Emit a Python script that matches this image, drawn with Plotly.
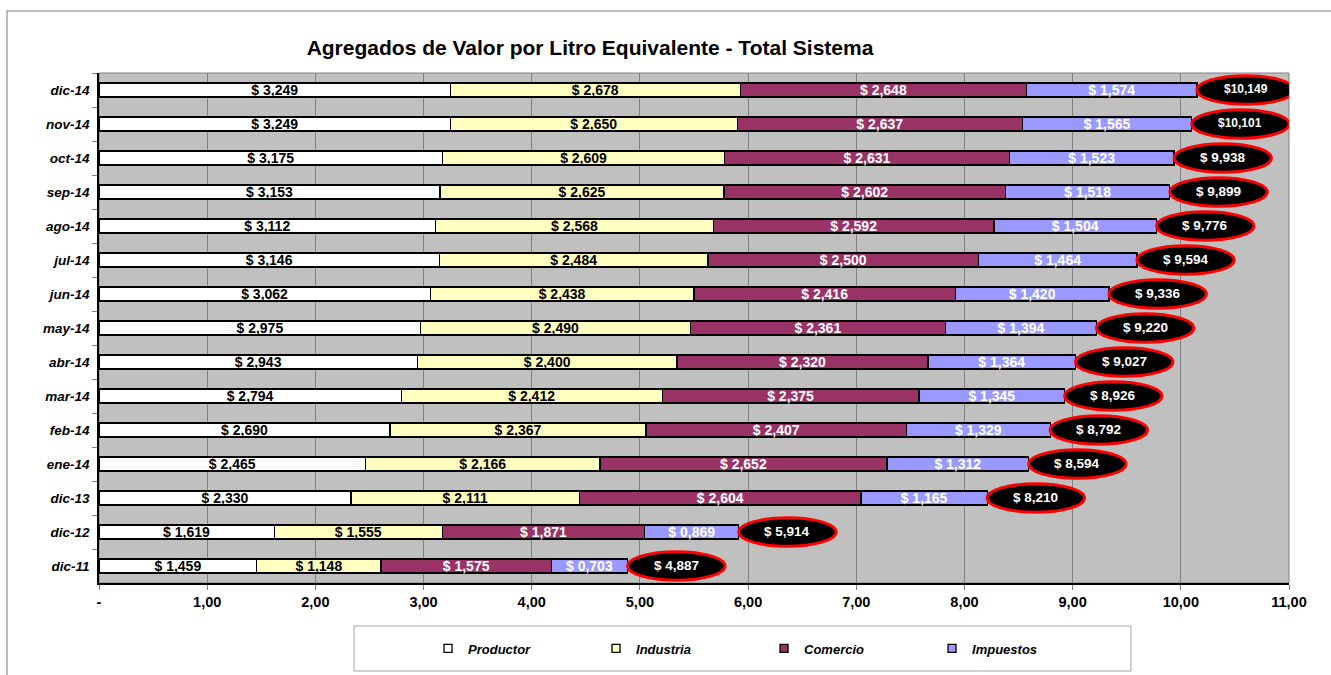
import plotly.graph_objects as go

# ---------------- data ----------------
months = ["dic-14", "nov-14", "oct-14", "sep-14", "ago-14", "jul-14", "jun-14",
          "may-14", "abr-14", "mar-14", "feb-14", "ene-14", "dic-13", "dic-12", "dic-11"]
productor = [3.249, 3.249, 3.175, 3.153, 3.112, 3.146, 3.062, 2.975, 2.943, 2.794,
             2.690, 2.465, 2.330, 1.619, 1.459]
industria = [2.678, 2.650, 2.609, 2.625, 2.568, 2.484, 2.438, 2.490, 2.400, 2.412,
             2.367, 2.166, 2.111, 1.555, 1.148]
comercio = [2.648, 2.637, 2.631, 2.602, 2.592, 2.500, 2.416, 2.361, 2.320, 2.375,
            2.407, 2.652, 2.604, 1.871, 1.575]
impuestos = [1.574, 1.565, 1.523, 1.518, 1.504, 1.464, 1.420, 1.394, 1.364, 1.345,
             1.329, 1.312, 1.165, 0.869, 0.703]
totales = [10.149, 10.101, 9.938, 9.899, 9.776, 9.594, 9.336, 9.220, 9.027, 8.926,
           8.792, 8.594, 8.210, 5.914, 4.887]
series_names = ["Productor", "Industria", "Comercio", "Impuestos"]
x_tick_values = list(range(0, 12))
x_tick_labels = ["-", "1,00", "2,00", "3,00", "4,00", "5,00", "6,00", "7,00",
                 "8,00", "9,00", "10,00", "11,00"]
title_text = "Agregados de Valor por Litro Equivalente - Total Sistema"

# ---------------- styles ----------------
FONT = "Arial, Liberation Sans, sans-serif"
colors = ["#FFFFFF", "#FFFFC0", "#993366", "#9999FF"]
text_colors = ["#000000", "#000000", "#FFFFFF", "#FFFFFF"]


def fmt(v):
    return "$ " + f"{v:.3f}".replace(".", ",")


def fmt_total(v):
    s = f"{v:.3f}".replace(".", ",")
    return "$" + s if v >= 10 else "$ " + s


fig = go.Figure()
for name, vals, col, tcol in zip(series_names, [productor, industria, comercio, impuestos],
                                 colors, text_colors):
    fig.add_trace(go.Bar(
        name=name, y=months, x=vals, orientation="h", width=0.41,
        marker=dict(color=col, line=dict(color="#000000", width=1.3)),
        text=[fmt(v) for v in vals], textposition="inside", insidetextanchor="middle",
        textangle=0, showlegend=False,
        textfont=dict(family=FONT, size=14, color=tcol, weight="bold"),
        cliponaxis=False,
    ))

# legend entries (small square swatches like the original)
for name, col in zip(series_names, colors):
    fig.add_trace(go.Scatter(
        name=name, x=[None], y=[None], mode="markers",
        marker=dict(symbol="square", size=8, color=col,
                    line=dict(color="#000000", width=1.3)),
        showlegend=True,
    ))

# ellipses with totals
ELL_W = 0.9
ELL_H = 0.42
for i, (m, t) in enumerate(zip(months, totales)):
    fig.add_shape(type="circle", xref="x", yref="y",
                  x0=t, x1=t + ELL_W, y0=i - ELL_H, y1=i + ELL_H,
                  fillcolor="#000000", line=dict(color="#FF0000", width=3), layer="above")
    fig.add_annotation(x=t + ELL_W / 2, y=m, xref="x", yref="y", text=fmt_total(t),
                       showarrow=False, yshift=1,
                       font=dict(family=FONT, size=12 if t >= 10 else 13.5,
                                 color="#FFFFFF", weight="bold"))

# plot-area frame (gray top/right)
fig.add_shape(type="rect", xref="paper", yref="paper", x0=0, x1=1, y0=0, y1=1,
              line=dict(color="#808080", width=1), layer="below")
# outer chart border
fig.add_shape(type="rect", xref="paper", yref="paper", x0=-0.0773, x1=1.05,
              y0=-0.2, y1=1.1216, line=dict(color="#A6A6A6", width=1.5), layer="below")
# legend box
fig.add_shape(type="rect", xref="paper", yref="paper", x0=0.2143, x1=0.8672,
              y0=-0.1726, y1=-0.0843, line=dict(color="#A6A6A6", width=1),
              fillcolor="#FFFFFF", layer="below")

fig.update_layout(
    width=1331, height=675,
    margin=dict(l=99, r=42, t=73, b=92),
    paper_bgcolor="#FFFFFF", plot_bgcolor="#C0C0C0",
    barmode="stack", bargap=0.59,
    uniformtext=dict(mode="show", minsize=14),
    title=dict(text=title_text, x=0.4126, xref="paper", xanchor="center",
               y=1 - 48 / 675, yref="container", yanchor="middle",
               font=dict(family=FONT, size=21, color="#000000", weight="bold")),
    showlegend=True,
    legend=dict(orientation="h", traceorder="normal", x=0.2765, xanchor="left",
                y=-0.1284, yanchor="middle", bgcolor="rgba(0,0,0,0)",
                entrywidth=123, entrywidthmode="pixels",
                font=dict(family=FONT, size=13, color="#000000", weight="bold",
                          style="italic")),
    font=dict(family=FONT),
)
fig.update_xaxes(range=[0, 11], tickvals=x_tick_values, ticktext=x_tick_labels,
                 showgrid=True, gridcolor="#808080", gridwidth=1, zeroline=False,
                 showline=True, linecolor="#000000", linewidth=1.5,
                 ticks="outside", ticklen=5, tickcolor="#808080",
                 tickfont=dict(family=FONT, size=14.5, color="#000000", weight="bold"))
fig.update_yaxes(type="category", autorange="reversed", showgrid=False,
                 showline=True, linecolor="#000000", linewidth=1.5,
                 ticks="outside", tickson="boundaries", ticklen=5, tickcolor="#808080",
                 ticklabelstandoff=5,
                 tickfont=dict(family=FONT, size=13.5, color="#000000", weight="bold",
                               style="italic"))

fig.write_html("out.html", config={"displayModeBar": False},
               post_script="document.body.style.margin='0';document.body.style.overflow='hidden';")
